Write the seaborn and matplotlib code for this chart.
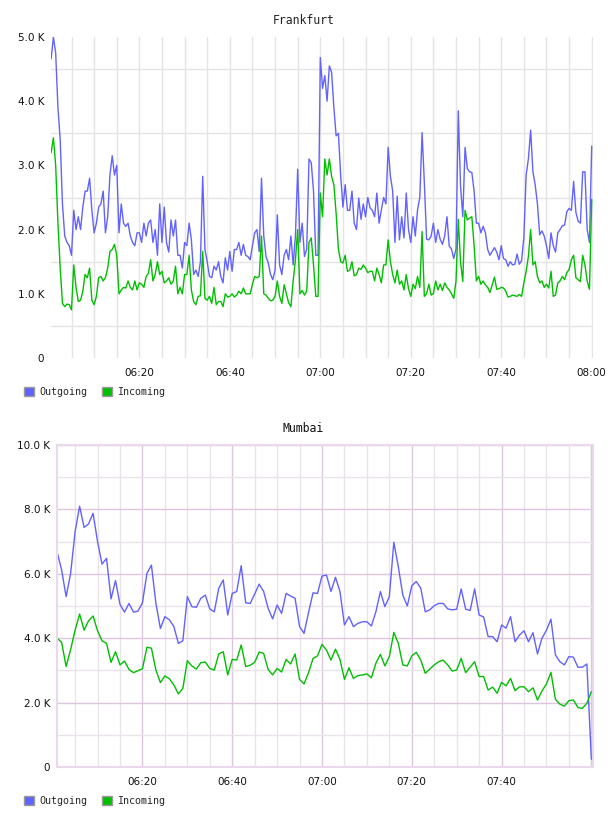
import pandas as pd
import matplotlib
matplotlib.use("Agg")
import matplotlib.pyplot as plt
import matplotlib.dates as mdates
from matplotlib.ticker import MultipleLocator, FuncFormatter
from matplotlib.patches import Patch
import seaborn as sns

# Frankfurt traffic, one sample every 30 s (06:00:30 .. 08:00:00), in K
fra_out = [4.66, 5.0, 4.75, 3.9, 3.4, 2.4, 1.9, 1.8, 1.75, 1.6,
           2.3, 2.0, 2.2, 2.0, 2.35, 2.6, 2.6, 2.8, 2.3, 1.95,
           2.1, 2.35, 2.4, 2.6, 1.95, 2.2, 2.85, 3.15, 2.85, 3.0,
           1.95, 2.4, 2.1, 2.05, 2.1, 1.9, 1.8, 1.75, 1.95, 1.95,
           1.8, 2.1, 1.9, 2.1, 2.15, 1.8, 2.0, 1.6, 2.4, 1.8,
           2.35, 1.8, 1.65, 2.15, 1.9, 2.15, 1.6, 1.6, 1.4, 1.8,
           1.75, 2.1, 1.84, 1.3, 1.37, 1.27, 1.5, 2.83, 1.69, 1.5,
           1.27, 1.25, 1.43, 1.37, 1.5, 1.27, 1.17, 1.56, 1.37, 1.66,
           1.35, 1.69, 1.69, 1.8, 1.6, 1.77, 1.6, 1.58, 1.53, 1.75,
           1.95, 2.0, 1.66, 2.8, 1.9, 1.58, 1.48, 1.3, 1.22, 1.37,
           2.23, 1.45, 1.3, 1.6, 1.69, 1.53, 1.9, 1.45, 1.9, 2.94,
           1.8, 2.1, 1.58, 1.7, 3.1, 3.04, 2.6, 1.6, 1.6, 4.68,
           4.2, 4.4, 4.0, 4.55, 4.45, 3.9, 3.46, 3.5, 2.85, 2.35,
           2.7, 2.3, 2.3, 2.6, 2.1, 2.0, 2.49, 2.16, 2.4, 2.2,
           2.5, 2.34, 2.3, 2.2, 2.57, 2.1, 2.31, 2.5, 2.4, 3.28,
           2.83, 2.6, 1.8, 2.52, 1.84, 2.2, 1.87, 2.57, 2.0, 1.8,
           2.2, 1.9, 2.31, 2.5, 3.51, 2.73, 1.85, 1.84, 1.9, 2.1,
           1.8, 2.0, 1.85, 1.77, 1.9, 2.2, 1.74, 1.7, 1.55, 1.7,
           3.85, 2.68, 2.2, 3.28, 2.95, 2.9, 2.89, 2.6, 2.1, 2.1,
           1.95, 2.05, 1.95, 1.69, 1.6, 1.66, 1.72, 1.65, 1.53, 1.75,
           1.55, 1.53, 1.43, 1.5, 1.45, 1.46, 1.62, 1.46, 1.52, 1.88,
           2.85, 3.1, 3.55, 2.9, 2.7, 2.4, 1.92, 1.98, 1.9, 1.75,
           1.55, 1.95, 1.75, 1.65, 1.95, 2.0, 2.06, 2.07, 2.28, 2.33,
           2.3, 2.75, 2.27, 2.13, 2.1, 2.9, 2.9, 2.0, 1.8, 3.3]
fra_in = [3.2, 3.43, 3.0, 2.1, 1.4, 0.85, 0.8, 0.84, 0.83, 0.75,
          1.45, 1.1, 0.88, 0.9, 1.04, 1.3, 1.25, 1.4, 0.9, 0.83,
          0.96, 1.25, 1.27, 1.2, 1.25, 1.4, 1.66, 1.69, 1.77, 1.6,
          1.0, 1.06, 1.1, 1.09, 1.2, 1.1, 1.06, 1.2, 1.06, 1.17,
          1.15, 1.1, 1.27, 1.32, 1.53, 1.2, 1.3, 1.5, 1.3, 1.35,
          1.17, 1.2, 1.25, 1.15, 1.2, 1.43, 1.0, 1.1, 1.0, 1.3,
          1.3, 1.6, 1.06, 0.88, 0.83, 0.96, 0.97, 1.66, 0.93, 0.9,
          0.96, 0.85, 1.1, 0.83, 0.88, 0.88, 0.8, 1.0, 0.95, 0.96,
          1.0, 0.95, 0.98, 1.04, 1.0, 1.09, 1.0, 1.0, 1.0, 1.15,
          1.27, 1.25, 1.27, 1.9, 1.0, 0.98, 0.93, 0.89, 0.9, 0.96,
          1.2, 0.96, 0.85, 1.14, 1.0, 0.86, 0.8, 1.2, 1.53, 2.0,
          1.0, 1.05, 0.98, 1.04, 1.8, 1.87, 1.45, 0.96, 0.96, 2.57,
          2.2, 3.1, 2.85, 3.1, 2.83, 2.7, 2.25, 1.7, 1.5, 1.48,
          1.6, 1.35, 1.37, 1.5, 1.28, 1.3, 1.4, 1.38, 1.45, 1.4,
          1.33, 1.35, 1.35, 1.2, 1.4, 1.3, 1.17, 1.45, 1.45, 1.84,
          1.5, 1.3, 1.17, 1.37, 1.15, 1.2, 1.06, 1.3, 1.08, 0.96,
          1.15, 1.08, 1.27, 1.1, 1.97, 0.96, 1.0, 1.15, 0.98, 1.0,
          1.2, 1.06, 1.15, 1.05, 1.17, 1.1, 1.06, 1.0, 0.93, 1.2,
          2.16, 1.5, 1.19, 2.3, 2.15, 2.18, 2.2, 1.75, 1.2, 1.27,
          1.15, 1.2, 1.14, 1.1, 1.02, 1.14, 1.26, 1.07, 1.08, 1.1,
          1.09, 1.04, 0.95, 0.96, 0.98, 0.97, 0.96, 0.99, 0.96, 1.17,
          1.35, 1.58, 2.0, 1.45, 1.5, 1.27, 1.17, 1.2, 1.1, 1.15,
          1.09, 1.35, 0.96, 0.98, 1.17, 1.2, 1.27, 1.22, 1.33, 1.38,
          1.53, 1.6, 1.25, 1.22, 1.19, 1.6, 1.45, 1.2, 1.07, 2.47]

# Mumbai traffic, one sample per minute (06:01 .. 08:00), in K
mum_out = [6.67, 6.12, 5.29, 6.01, 7.31, 8.1, 7.44, 7.55, 7.88, 7.0,
           6.3, 6.48, 5.22, 5.79, 5.05, 4.81, 5.08, 4.81, 4.84, 5.1,
           6.01, 6.27, 5.08, 4.3, 4.67, 4.57, 4.36, 3.84, 3.92, 5.29,
           4.98, 4.96, 5.24, 5.34, 4.91, 4.82, 5.55, 5.81, 4.72, 5.39,
           5.45, 6.25, 5.1, 5.08, 5.37, 5.68, 5.45, 4.93, 4.6, 5.03,
           4.77, 5.39, 5.31, 5.24, 4.36, 4.15, 4.8, 5.41, 5.39, 5.93,
           5.96, 5.45, 5.89, 5.45, 4.41, 4.67, 4.36, 4.46, 4.51, 4.51,
           4.38, 4.82, 5.45, 4.98, 5.29, 6.98, 6.22, 5.34, 5.0, 5.63,
           5.76, 5.55, 4.82, 4.88, 5.01, 5.08, 5.08, 4.91, 4.88, 4.9,
           5.53, 4.9, 4.86, 5.53, 4.72, 4.66, 4.05, 4.05, 3.89, 4.41,
           4.31, 4.67, 3.89, 4.1, 4.23, 3.89, 4.17, 3.51, 4.0, 4.25,
           4.59, 3.48, 3.27, 3.17, 3.43, 3.41, 3.1, 3.1, 3.2, 0.24]
mum_in = [4.0, 3.87, 3.12, 3.65, 4.25, 4.75, 4.25, 4.54, 4.69, 4.23,
          3.92, 3.84, 3.25, 3.58, 3.17, 3.29, 3.03, 2.93, 2.99, 3.05,
          3.72, 3.69, 3.01, 2.62, 2.83, 2.74, 2.55, 2.27, 2.44, 3.3,
          3.14, 3.04, 3.24, 3.26, 3.06, 3.01, 3.51, 3.58, 2.86, 3.34,
          3.32, 3.79, 3.12, 3.16, 3.25, 3.57, 3.53, 3.03, 2.86, 3.06,
          2.95, 3.34, 3.2, 3.51, 2.72, 2.58, 2.93, 3.37, 3.45, 3.81,
          3.63, 3.32, 3.66, 3.34, 2.72, 3.08, 2.75, 2.84, 2.86, 2.89,
          2.77, 3.22, 3.5, 3.14, 3.43, 4.18, 3.84, 3.17, 3.14, 3.45,
          3.56, 3.32, 2.91, 3.04, 3.17, 3.27, 3.32, 3.17, 2.98, 3.01,
          3.37, 2.93, 3.1, 3.27, 2.81, 2.81, 2.39, 2.48, 2.29, 2.63,
          2.52, 2.75, 2.37, 2.49, 2.49, 2.34, 2.46, 2.08, 2.36, 2.58,
          2.94, 2.1, 1.95, 1.89, 2.06, 2.08, 1.85, 1.82, 1.98, 2.34]

legend_labels = ["Outgoing", "Incoming"]
BLUE = "#6262ff"
GREEN = "#00bf00"

fra_times = pd.date_range("2014-01-01 06:00:30", periods=len(fra_out), freq="30s")
mum_times = pd.date_range("2014-01-01 06:01:00", periods=len(mum_out), freq="60s")

sns.set_style("white")
plt.rcParams["font.family"] = ["DejaVu Sans"]

W, H = 608, 816
fig = plt.figure(figsize=(W / 100, H / 100), dpi=100)


def box(l, t, r, b):
    return [l / W, 1 - b / H, (r - l) / W, (b - t) / H]


def kfmt(v, pos):
    return "0" if abs(v) < 1e-9 else f"{v:.1f} K"


def draw(ax, times, out_vals, in_vals, xlim, ymax, ystep):
    sns.lineplot(x=times, y=out_vals, ax=ax, color=BLUE, lw=1.0, estimator=None)
    sns.lineplot(x=times, y=in_vals, ax=ax, color=GREEN, lw=1.0, estimator=None)
    ax.set_xlim(pd.Timestamp(xlim[0]), pd.Timestamp(xlim[1]))
    ax.set_ylim(0, ymax)
    ax.xaxis.set_major_locator(mdates.MinuteLocator(byminute=[0, 20, 40]))
    ax.xaxis.set_minor_locator(mdates.MinuteLocator(byminute=range(0, 60, 5)))
    ax.xaxis.set_major_formatter(mdates.DateFormatter("%H:%M"))
    ax.yaxis.set_major_locator(MultipleLocator(ystep))
    ax.yaxis.set_minor_locator(MultipleLocator(ystep / 2))
    ax.yaxis.set_major_formatter(FuncFormatter(kfmt))
    ax.tick_params(which="both", length=0, labelsize=7.5, colors="#111111")
    ax.tick_params(axis="x", pad=7)
    ax.tick_params(axis="y", pad=5)
    ax.set_xlabel("")
    ax.set_ylabel("")
    ax.set_axisbelow(True)


# Frankfurt
ax1 = fig.add_axes(box(51, 37, 593, 358))
draw(ax1, fra_times, fra_out, fra_in,
     ("2014-01-01 06:00:28", "2014-01-01 08:00:17"), 5.0, 1.0)
ax1.grid(which="both", axis="x", color="#e4e4e4", lw=1.0)
ax1.grid(which="minor", axis="y", color="#e4e4e4", lw=1.0)
ax1.grid(which="major", axis="y", visible=False)
for s in ax1.spines.values():
    s.set_visible(False)
fig.text(304 / W, 1 - 20 / H, "Frankfurt", ha="center", va="center",
         family="DejaVu Sans Mono", fontsize=8.3, color="#222222")

# Mumbai
ax2 = fig.add_axes(box(57, 445, 593, 767))
draw(ax2, mum_times, mum_out, mum_in,
     ("2014-01-01 06:00:58", "2014-01-01 08:00:22"), 10.0, 2.0)
# the last hour mark sits on the frame and is left unlabelled
ax2.xaxis.set_major_formatter(FuncFormatter(
    lambda v, pos: "" if mdates.num2date(v).strftime("%H:%M") == "08:00"
    else mdates.num2date(v).strftime("%H:%M")))
ax2.grid(which="major", color="#dfc6df", lw=1.0)
ax2.grid(which="minor", color="#ebe3eb", lw=1.0)
for s in ax2.spines.values():
    s.set_visible(True)
    s.set_color("#ecd8ec")
    s.set_linewidth(1.5)
fig.text(303 / W, 1 - 428 / H, "Mumbai", ha="center", va="center",
         family="DejaVu Sans Mono", fontsize=8.3, color="#111111")

# legends under each chart
for y in (392, 801):
    handles = [Patch(facecolor=BLUE, edgecolor="#9a9a9a", lw=1.0),
               Patch(facecolor=GREEN, edgecolor="#9a9a9a", lw=1.0)]
    fig.legend(handles=handles, labels=legend_labels, loc="center left",
               bbox_to_anchor=(24 / W, 1 - y / H), ncol=2, frameon=False,
               handlelength=1.0, handleheight=1.0, handletextpad=0.5,
               columnspacing=1.5, borderpad=0, borderaxespad=0,
               prop={"family": "DejaVu Sans Mono", "size": 7.2})

fig.savefig("out.png", dpi=100, facecolor="white")
